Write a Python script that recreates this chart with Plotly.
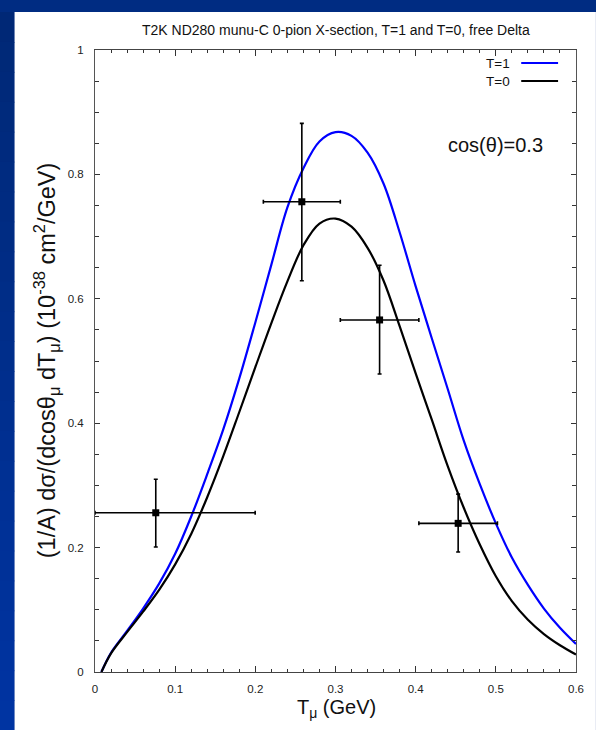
import plotly.graph_objects as go

# ---------------- data ----------------
t1_x = [0.008, 0.02, 0.04, 0.06, 0.08, 0.10, 0.12, 0.14, 0.16, 0.18, 0.20, 0.22,
        0.24, 0.26, 0.28, 0.30, 0.32, 0.34, 0.36, 0.38, 0.40, 0.42, 0.44, 0.46,
        0.48, 0.50, 0.52, 0.54, 0.56, 0.58, 0.60]
t1_y = [0.0, 0.031, 0.066, 0.102, 0.142, 0.190, 0.250, 0.318, 0.390, 0.472, 0.562, 0.655,
        0.747, 0.810, 0.853, 0.868, 0.862, 0.835, 0.785, 0.707, 0.620, 0.537, 0.455, 0.372,
        0.302, 0.239, 0.184, 0.140, 0.102, 0.071, 0.045]

t0_x = [0.008, 0.02, 0.04, 0.06, 0.08, 0.10, 0.12, 0.14, 0.16, 0.18, 0.20, 0.22,
        0.24, 0.26, 0.28, 0.30, 0.32, 0.34, 0.36, 0.38, 0.40, 0.42, 0.44, 0.46,
        0.48, 0.50, 0.52, 0.54, 0.56, 0.58, 0.60]
t0_y = [0.0, 0.030, 0.064, 0.097, 0.132, 0.173, 0.222, 0.281, 0.347, 0.418, 0.490, 0.561,
        0.628, 0.686, 0.721, 0.729, 0.716, 0.682, 0.629, 0.556, 0.480, 0.406, 0.331, 0.264,
        0.205, 0.154, 0.114, 0.084, 0.061, 0.043, 0.028]

data_x = [0.0758, 0.258, 0.355, 0.453]
data_y = [0.256, 0.756, 0.566, 0.239]
data_xerr_minus = [0.0758, 0.048, 0.049, 0.049]
data_xerr_plus = [0.124, 0.048, 0.049, 0.049]
data_yerr_minus = [0.055, 0.127, 0.087, 0.046]
data_yerr_plus = [0.054, 0.126, 0.088, 0.047]

x_tickvals = [0, 0.1, 0.2, 0.3, 0.4, 0.5, 0.6]
x_ticktext = ["0", "0.1", "0.2", "0.3", "0.4", "0.5", "0.6"]
y_tickvals = [0, 0.2, 0.4, 0.6, 0.8, 1.0]
y_ticktext = ["0", "0.2", "0.4", "0.6", "0.8", "1"]

title_text = "T2K ND280 munu-C 0-pion X-section, T=1 and T=0, free Delta"
x_title = "T<sub>μ</sub> (GeV)"
y_title = "(1/A) dσ/(dcosθ<sub>μ</sub> dT<sub>μ</sub>) (10<sup>-38</sup> cm<sup>2</sup>/GeV)"
cos_label = "cos(θ)=0.3"

FONT = "Liberation Sans, Arial, sans-serif"

fig = go.Figure()

fig.add_trace(go.Scatter(x=t1_x, y=t1_y, mode="lines", name="T=1",
                         line=dict(color="#0000ff", width=2.2, shape="spline", smoothing=1.0),
                         showlegend=False))
fig.add_trace(go.Scatter(x=t0_x, y=t0_y, mode="lines", name="T=0",
                         line=dict(color="#000000", width=2.2, shape="spline", smoothing=1.0),
                         showlegend=False))
fig.add_trace(go.Scatter(
    x=data_x, y=data_y, mode="markers", name="data", showlegend=False,
    marker=dict(symbol="square", size=7, color="black"),
    error_x=dict(type="data", symmetric=False, array=data_xerr_plus,
                 arrayminus=data_xerr_minus, color="black", thickness=1.6, width=2),
    error_y=dict(type="data", symmetric=False, array=data_yerr_plus,
                 arrayminus=data_yerr_minus, color="black", thickness=1.6, width=2),
))

# background: white page with blue frame strip on left and top
L, R, T, B = 95, 18, 50, 58
W, H = 596, 730
pw, ph = W - L - R, H - T - B


def px2paper_x(px):
    return (px - L) / pw


def px2paper_y(py):
    return 1 - (py - T) / ph


shapes = []
shapes.append(dict(type="rect", xref="paper", yref="paper",
                   x0=px2paper_x(14), x1=px2paper_x(W + 2),
                   y0=px2paper_y(H + 2), y1=px2paper_y(12),
                   fillcolor="white", line=dict(width=0), layer="below"))
# gradient on left strip
n = 24
c_top = (0, 40, 118)
c_bot = (0, 52, 162)
for i in range(n):
    f = i / (n - 1)
    col = tuple(int(round(a + (b - a) * f)) for a, b in zip(c_top, c_bot))
    y0 = 12 + (H - 12) * i / n
    y1 = 12 + (H - 12) * (i + 1) / n
    shapes.append(dict(type="rect", xref="paper", yref="paper",
                       x0=px2paper_x(-2), x1=px2paper_x(14),
                       y0=px2paper_y(y1 + 1), y1=px2paper_y(y0),
                       fillcolor="rgb(%d,%d,%d)" % col, line=dict(width=0), layer="below"))
# legend line samples
shapes.append(dict(type="line", xref="paper", yref="paper",
                   x0=px2paper_x(523), x1=px2paper_x(560),
                   y0=px2paper_y(63), y1=px2paper_y(63),
                   line=dict(color="#0000ff", width=2.2)))
shapes.append(dict(type="line", xref="paper", yref="paper",
                   x0=px2paper_x(523), x1=px2paper_x(560),
                   y0=px2paper_y(81), y1=px2paper_y(81),
                   line=dict(color="#000000", width=2.2)))

annotations = [
    dict(text=title_text, xref="paper", yref="paper", x=0.5, y=px2paper_y(30),
         xanchor="center", yanchor="middle", showarrow=False,
         font=dict(family=FONT, size=14, color="#111")),
    dict(text=y_title, xref="paper", yref="paper", x=px2paper_x(46), y=px2paper_y(360),
         xanchor="center", yanchor="middle", showarrow=False, textangle=-90,
         font=dict(family=FONT, size=23.5, color="#111")),
    dict(text=x_title, xref="paper", yref="paper", x=px2paper_x(338), y=px2paper_y(708),
         xanchor="center", yanchor="middle", showarrow=False,
         font=dict(family=FONT, size=20, color="#111")),
    dict(text=cos_label, xref="x", yref="y", x=0.5, y=0.847,
         xanchor="center", yanchor="middle", showarrow=False,
         font=dict(family=FONT, size=20, color="#111")),
    dict(text="T=1", xref="paper", yref="paper", x=px2paper_x(514), y=px2paper_y(63),
         xanchor="right", yanchor="middle", showarrow=False,
         font=dict(family=FONT, size=13.5, color="#111")),
    dict(text="T=0", xref="paper", yref="paper", x=px2paper_x(514), y=px2paper_y(81),
         xanchor="right", yanchor="middle", showarrow=False,
         font=dict(family=FONT, size=13.5, color="#111")),
]

fig.update_layout(
    width=W, height=H,
    margin=dict(l=L, r=R, t=T, b=B, pad=0),
    paper_bgcolor="rgb(0,44,130)",
    plot_bgcolor="white",
    shapes=shapes,
    annotations=annotations,
    showlegend=False,
    font=dict(family=FONT, size=11, color="#222"),
    xaxis=dict(range=[0, 0.6], tickmode="array", tickvals=x_tickvals, ticktext=x_ticktext,
               ticks="inside", ticklen=6, tickwidth=1, tickcolor="#333",
               ticklabelstandoff=6,
               minor=dict(tickmode="linear", tick0=0, dtick=0.02, ticks="inside",
                          ticklen=3, tickcolor="#333"),
               showline=True, linecolor="#444", linewidth=1, mirror="ticks",
               showgrid=False, zeroline=False,
               tickfont=dict(family=FONT, size=11.5, color="#222")),
    yaxis=dict(range=[0, 1], tickmode="array", tickvals=y_tickvals, ticktext=y_ticktext,
               ticks="inside", ticklen=5, tickwidth=1, tickcolor="#333",
               ticklabelstandoff=8,
               minor=dict(tickmode="linear", tick0=0, dtick=0.05, ticks="inside",
                          ticklen=4, tickcolor="#333"),
               showline=True, linecolor="#555", linewidth=1, mirror="ticks",
               showgrid=False, zeroline=False,
               tickfont=dict(family=FONT, size=11.5, color="#222")),
)

fig.write_html("out.html")
